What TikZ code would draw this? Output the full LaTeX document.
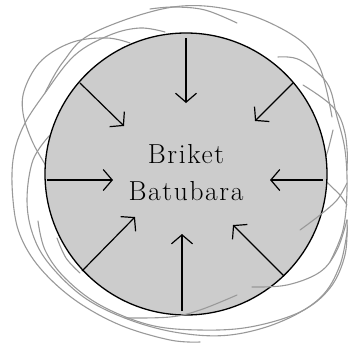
\documentclass[tikz,border=0pt]{standalone}
\usepackage{fontspec}
\newfontfamily\lblfont{Latin Modern Roman}[LetterSpace=6]
\usetikzlibrary{arrows.meta}
\begin{document}
\begin{tikzpicture}[x=1pt,y=-1pt,
  scribble/.style={draw=black!40,line width=1.1pt,line cap=round,line join=round},
  inarrow/.style={draw=black,line width=1.2pt,-{Straight Barb[length=9pt,width=21pt,line width=1.2pt]}},
  lbl/.style={anchor=base,inner sep=0pt,font=\lblfont\fontsize{27.5}{32}\selectfont}]
\useasboundingbox (0,0) rectangle (348,349);
% scribble loops behind the briquette
\draw[scribble] plot[smooth,tension=0.6] coordinates {(45,93) (63,62) (93,33) (173,7) (240,12) (297,38) (320,68) (332,117)};
\draw[scribble] plot[smooth,tension=0.6] coordinates {(150,9) (174,7) (205,10) (237,23)};
\draw[scribble] plot[smooth,tension=0.6] coordinates {(200,342) (170,340) (120,325) (75,300) (40,268) (20,235) (13,200) (13,160) (23,127) (45,93) (75,55) (110,35) (140,28) (165,32)};
\draw[scribble] plot[smooth,tension=0.6] coordinates {(130,43) (107,38) (73,42) (42,60) (25,88) (23,113) (33,143) (50,172)};
\draw[scribble] plot[smooth,tension=0.6] coordinates {(278,57) (300,60) (327,83) (337,117) (345,150) (347,190) (343,230) (330,262)};
\draw[scribble] plot[smooth,tension=0.6] coordinates {(303,85) (333,107) (345,133) (348,170)};
\draw[scribble] plot[smooth,tension=0.6] coordinates {(50,135) (33,160) (27,200) (33,235) (50,265) (85,298) (130,320) (180,333) (230,335) (280,322) (320,298) (340,265) (348,225)};
\draw[scribble] plot[smooth,tension=0.6] coordinates {(38,221) (45,250) (65,278) (100,305) (150,325) (200,330) (250,327) (300,312) (330,288) (345,255) (347,220)};
\draw[scribble] plot[smooth,tension=0.6] coordinates {(57,238) (66,258) (80,273)};
\draw[scribble] plot[smooth,tension=0.6] coordinates {(333,130) (328,150) (321,172) (327,182) (340,195) (347,205)};
% briquette
\node[circle,draw=black,line width=1.3pt,fill=black!20,minimum size=282pt,inner sep=0pt] (bri) at (186,174) {};
% scribble parts over the briquette
\draw[scribble] plot[smooth,tension=0.6] coordinates {(300,230) (320,215) (337,200) (347,183)};
\draw[scribble] plot[smooth,tension=0.6] coordinates {(252,287) (287,285) (320,272) (337,250) (347,220)};
\draw[scribble] plot[smooth,tension=0.6] coordinates {(237,295) (200,310) (170,317) (125,318)};
% text
\node[lbl] (t1) at (186,163) {Briket};
\node[lbl] (t2) at (186,200) {Batubara};
% arrows: from the rim inwards
\coordinate (s1) at (186,38);  \coordinate (e1) at (186,103);
\coordinate (s2) at (293,83);  \coordinate (e2) at (255,121);
\coordinate (s3) at (323,180); \coordinate (e3) at (270,180);
\coordinate (s4) at (284,276); \coordinate (e4) at (233,225);
\coordinate (s5) at (182,311); \coordinate (e5) at (182,234);
\coordinate (s6) at (82,271);  \coordinate (e6) at (135,217);
\coordinate (s7) at (47,180);  \coordinate (e7) at (113,180);
\coordinate (s8) at (80,83);   \coordinate (e8) at (124,126);
\foreach \i in {1,...,8} {\draw[inarrow] (s\i) -- (e\i);}
\end{tikzpicture}
\end{document}
